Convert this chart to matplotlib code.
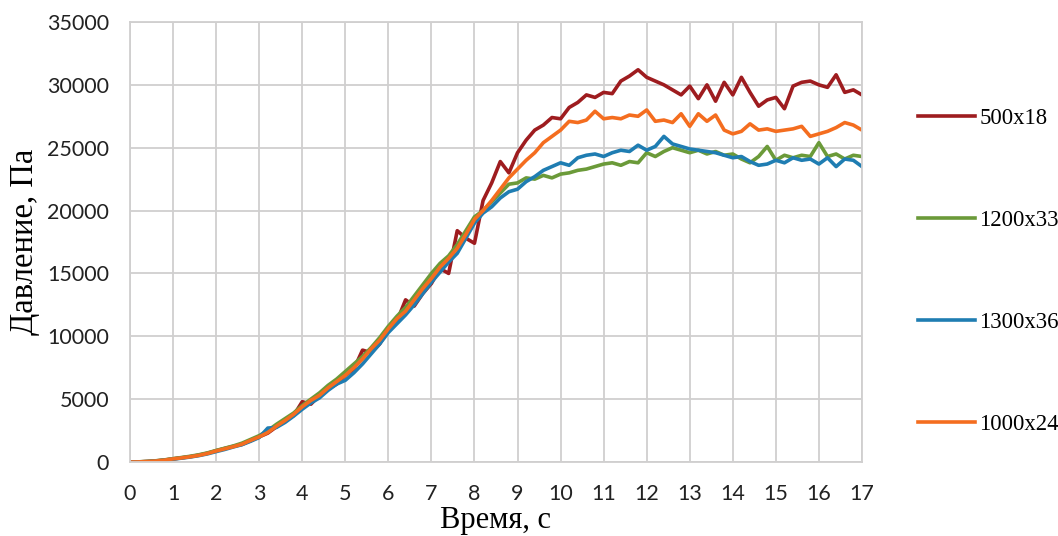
import numpy as np
import matplotlib
matplotlib.use('Agg')
import matplotlib.pyplot as plt

# time grid, 0.2 s step
time_s = np.round(np.arange(0, 17.01, 0.2), 1)

p_500x18 = [0, 10, 40, 90, 160, 250, 340, 430, 550, 700,
            900, 1080, 1250, 1400, 1700, 2000, 2300, 2800, 3250, 3700,
            4800, 4600, 5300, 5800, 6200, 6900, 7400, 8900, 8700, 9400,
            10500, 11200, 12900, 12400, 13400, 14200, 15400, 15000, 18400, 17800,
            17400, 20800, 22200, 23900, 23000, 24600, 25600, 26400, 26800, 27400,
            27300, 28200, 28600, 29200, 29000, 29400, 29300, 30300, 30700, 31200,
            30600, 30300, 30000, 29600, 29200, 29900, 28900, 30000, 28700, 30200,
            29200, 30600, 29400, 28300, 28800, 29000, 28100, 29900, 30200, 30300,
            30000, 29800, 30800, 29400, 29600, 29200]

p_1200x33 = [0, 15, 50, 100, 170, 270, 360, 460, 580, 730,
             920, 1100, 1280, 1500, 1800, 2100, 2500, 3000, 3450, 3900,
             4500, 5000, 5500, 6100, 6600, 7200, 7800, 8400, 9100, 9900,
             10800, 11600, 12300, 13200, 14100, 15000, 15800, 16400, 17300, 18400,
             19500, 20000, 20700, 21400, 22100, 22200, 22600, 22500, 22800, 22600,
             22900, 23000, 23200, 23300, 23500, 23700, 23800, 23600, 23900, 23800,
             24600, 24300, 24700, 25000, 24800, 24600, 24800, 24500, 24700, 24400,
             24500, 24100, 23800, 24300, 25100, 24000, 24400, 24200, 24400, 24300,
             25400, 24300, 24500, 24100, 24400, 24300]

p_1300x36 = [0, 10, 30, 70, 140, 230, 310, 400, 510, 650,
             830, 1000, 1200, 1380, 1650, 1950, 2700, 2750, 3150, 3650,
             4200, 4700, 5100, 5700, 6200, 6500, 7100, 7800, 8600, 9400,
             10300, 11000, 11700, 12500, 13400, 14300, 15100, 15900, 16600, 17800,
             19000, 19800, 20300, 21000, 21500, 21700, 22300, 22700, 23200, 23500,
             23800, 23600, 24200, 24400, 24500, 24300, 24600, 24800, 24700, 25200,
             24800, 25100, 25900, 25300, 25100, 24900, 24800, 24700, 24600, 24400,
             24200, 24300, 23900, 23600, 23700, 24000, 23800, 24200, 24000, 24100,
             23700, 24200, 23500, 24100, 24000, 23500]

p_1000x24 = [0, 10, 40, 80, 150, 250, 330, 420, 530, 680,
             880, 1050, 1220, 1420, 1720, 2000, 2350, 2850, 3300, 3800,
             4400, 4900, 5300, 5900, 6400, 6900, 7500, 8200, 9000, 9700,
             10600, 11400, 12000, 12900, 13800, 14600, 15500, 16200, 17000, 18100,
             19300, 20000, 20800, 21700, 22600, 23300, 24000, 24600, 25400, 25900,
             26400, 27100, 27000, 27200, 27900, 27300, 27400, 27300, 27600, 27500,
             28000, 27100, 27200, 27000, 27700, 26700, 27700, 27100, 27600, 26400,
             26100, 26300, 26900, 26400, 26500, 26300, 26400, 26500, 26700, 25900,
             26100, 26300, 26600, 27000, 26800, 26400]

labels = ['500x18', '1200x33', '1300x36', '1000x24']
colors = ['#9e1c1f', '#6b9a39', '#1f7db2', '#f46d1f']
series = [p_500x18, p_1200x33, p_1300x36, p_1000x24]

fig = plt.figure(figsize=(10.58, 5.36), dpi=100)
ax = fig.add_axes([0.1229, 0.138, 0.6918, 0.821])

for vals, lab, col in zip(series, labels, colors):
    ax.plot(time_s, vals, color=col, lw=2.6, label=lab)

ax.set_xlim(0, 17)
ax.set_ylim(0, 35000)
ax.set_xticks(range(0, 18))
ax.set_yticks(range(0, 35001, 5000))
ax.grid(True, color='#d0cfcf', lw=1.3)
ax.set_axisbelow(True)
for sp in ax.spines.values():
    sp.set_color('#d0cfcf')
    sp.set_linewidth(1.3)
ax.tick_params(length=0, labelsize=15.5, labelcolor='#222222')
ax.tick_params(axis='x', pad=16)
ax.tick_params(axis='y', pad=15)
for t in ax.get_xticklabels() + ax.get_yticklabels():
    t.set_fontfamily('Lato')

ax.set_xlabel('Время, с', family='Liberation Serif', fontsize=22)
ax.set_ylabel('Давление, Па', family='Liberation Serif', fontsize=23.5)
ax.xaxis.set_label_coords(0.5, -0.1)
ax.yaxis.set_label_coords(-0.123, 0.5)

fig.legend(loc='upper left', bbox_to_anchor=(0.848, 0.836), frameon=False,
           prop={'family': 'Liberation Serif', 'size': 16.4},
           handlelength=2.5, handletextpad=0.2, labelspacing=3.55)

fig.savefig('out.png', dpi=100)
